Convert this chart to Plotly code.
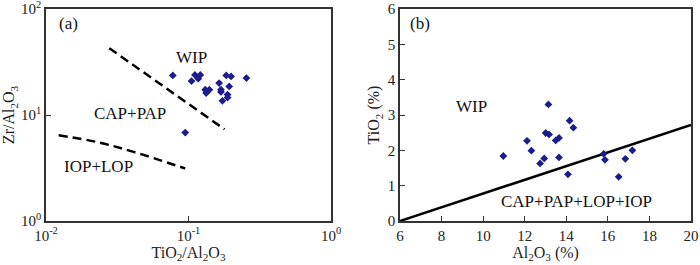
import plotly.graph_objects as go

# ---- Panel (a): Zr/Al2O3 vs TiO2/Al2O3 (log-log) ----
a_tio2_al2o3 = [0.0776, 0.111, 0.121, 0.105, 0.117, 0.131, 0.140, 0.133, 0.164, 0.169,
                0.169, 0.184, 0.199, 0.193, 0.188, 0.188, 0.173, 0.255, 0.0948]
a_zr_al2o3 = [23.6, 23.9, 23.9, 20.9, 22.0, 17.3, 17.3, 16.1, 20.0, 17.3,
              16.5, 23.6, 23.1, 18.6, 15.6, 14.6, 13.6, 22.3, 6.82]

# boundary lines in (a)
a_line1_x = [0.0278, 0.179]
a_line1_y = [42.7, 7.33]
a_line2_x = [0.01227, 0.0227, 0.0411, 0.0948]
a_line2_y = [6.44, 5.57, 4.49, 3.13]

# ---- Panel (b): TiO2 vs Al2O3 ----
b_al2o3 = [10.97, 12.11, 12.32, 12.74, 12.94, 13.01, 13.17, 13.14, 13.49, 13.65,
           13.65, 14.08, 14.16, 14.34, 15.80, 15.86, 16.52, 16.84, 17.18]
b_tio2 = [1.84, 2.27, 1.99, 1.63, 1.77, 2.49, 2.45, 3.30, 2.28, 2.35,
          1.80, 1.32, 2.84, 2.64, 1.90, 1.73, 1.25, 1.76, 2.00]

b_line_x = [6, 20]
b_line_y = [0, 2.72]

a_tickvals = [0.01, 0.1, 1]
a_ticktext = ["10<sup>-2</sup>", "10<sup>-1</sup>", "10<sup>0</sup>"]
a_ytickvals = [1, 10, 100]
a_yticktext = ["10<sup>0</sup>", "10<sup>1</sup>", "10<sup>2</sup>"]
b_xticks = [6, 8, 10, 12, 14, 16, 18, 20]
b_yticks = [0, 1, 2, 3, 4, 5, 6]

FONT = "Liberation Serif"
MARK = "#1c1c8e"
TXT = "#222222"

fig = go.Figure()
fig.add_trace(go.Scatter(x=a_line1_x, y=a_line1_y, mode="lines",
                         line=dict(color="black", width=2.5, dash="9px,5px"),
                         xaxis="x", yaxis="y", showlegend=False))
fig.add_trace(go.Scatter(x=a_line2_x, y=a_line2_y, mode="lines",
                         line=dict(color="black", width=2.5, dash="9px,5px", shape="spline"),
                         xaxis="x", yaxis="y", showlegend=False))
fig.add_trace(go.Scatter(x=a_tio2_al2o3, y=a_zr_al2o3, mode="markers",
                         marker=dict(symbol="diamond", size=6, color=MARK),
                         xaxis="x", yaxis="y", showlegend=False))
fig.add_trace(go.Scatter(x=b_line_x, y=b_line_y, mode="lines",
                         line=dict(color="black", width=2.5),
                         xaxis="x2", yaxis="y2", showlegend=False))
fig.add_trace(go.Scatter(x=b_al2o3, y=b_tio2, mode="markers",
                         marker=dict(symbol="diamond", size=6, color=MARK),
                         xaxis="x2", yaxis="y2", showlegend=False))

axcommon = dict(showline=True, linecolor="#333333", linewidth=1.5, mirror=True,
                ticks="inside", ticklen=5, tickcolor="#333333", tickwidth=1,
                showgrid=False, zeroline=False, automargin=False,
                ticklabeloverflow="allow",
                tickfont=dict(family=FONT, size=15, color=TXT))

titlefont = dict(family=FONT, size=16, color=TXT)

fig.update_layout(
    template="none",
    width=700, height=265,
    margin=dict(l=46, r=9, t=9, b=44, pad=0),
    paper_bgcolor="white", plot_bgcolor="white",
    font=dict(family=FONT, size=16, color=TXT),
    showlegend=False,
    xaxis=dict(axcommon, type="log", range=[-2, 0], domain=[0, 285 / 645],
               tickvals=a_tickvals, ticktext=a_ticktext, anchor="y",
               title=dict(text="TiO<sub>2</sub>/Al<sub>2</sub>O<sub>3</sub>",
                          font=titlefont, standoff=0)),
    yaxis=dict(axcommon, type="log", range=[0, 2], domain=[0, 1],
               tickvals=a_ytickvals, ticktext=a_yticktext, anchor="x",
               title=dict(text="Zr/Al<sub>2</sub>O<sub>3</sub>",
                          font=titlefont, standoff=2)),
    xaxis2=dict(axcommon, range=[6, 20], domain=[354 / 645, 1],
                tickvals=b_xticks, anchor="y2",
                title=dict(text="Al<sub>2</sub>O<sub>3</sub> (%)",
                           font=titlefont, standoff=0)),
    yaxis2=dict(axcommon, range=[0, 6], domain=[0, 1],
                tickvals=b_yticks, anchor="x2",
                title=dict(text="TiO<sub>2</sub> (%)",
                           font=titlefont, standoff=4)),
)

ann = dict(showarrow=False, font=dict(family=FONT, size=17, color="#111111"))
fig.add_annotation(ann, x=-1.841, y=1.859, xref="x", yref="y", text="(a)")
fig.add_annotation(ann, x=-0.977, y=1.545, xref="x", yref="y", text="WIP")
fig.add_annotation(ann, x=-1.409, y=1.013, xref="x", yref="y", text="CAP+PAP")
fig.add_annotation(ann, x=-1.631, y=0.511, xref="x", yref="y", text="IOP+LOP")
fig.add_annotation(ann, x=6.96, y=5.6, xref="x2", yref="y2", text="(b)")
fig.add_annotation(ann, x=9.45, y=3.24, xref="x2", yref="y2", text="WIP")
fig.add_annotation(ann, x=14.5, y=0.54, xref="x2", yref="y2", text="CAP+PAP+LOP+IOP")

fig.write_html("out.html", config={"displayModeBar": False},
               post_script="document.body.style.margin='0';document.body.style.overflow='hidden';")
